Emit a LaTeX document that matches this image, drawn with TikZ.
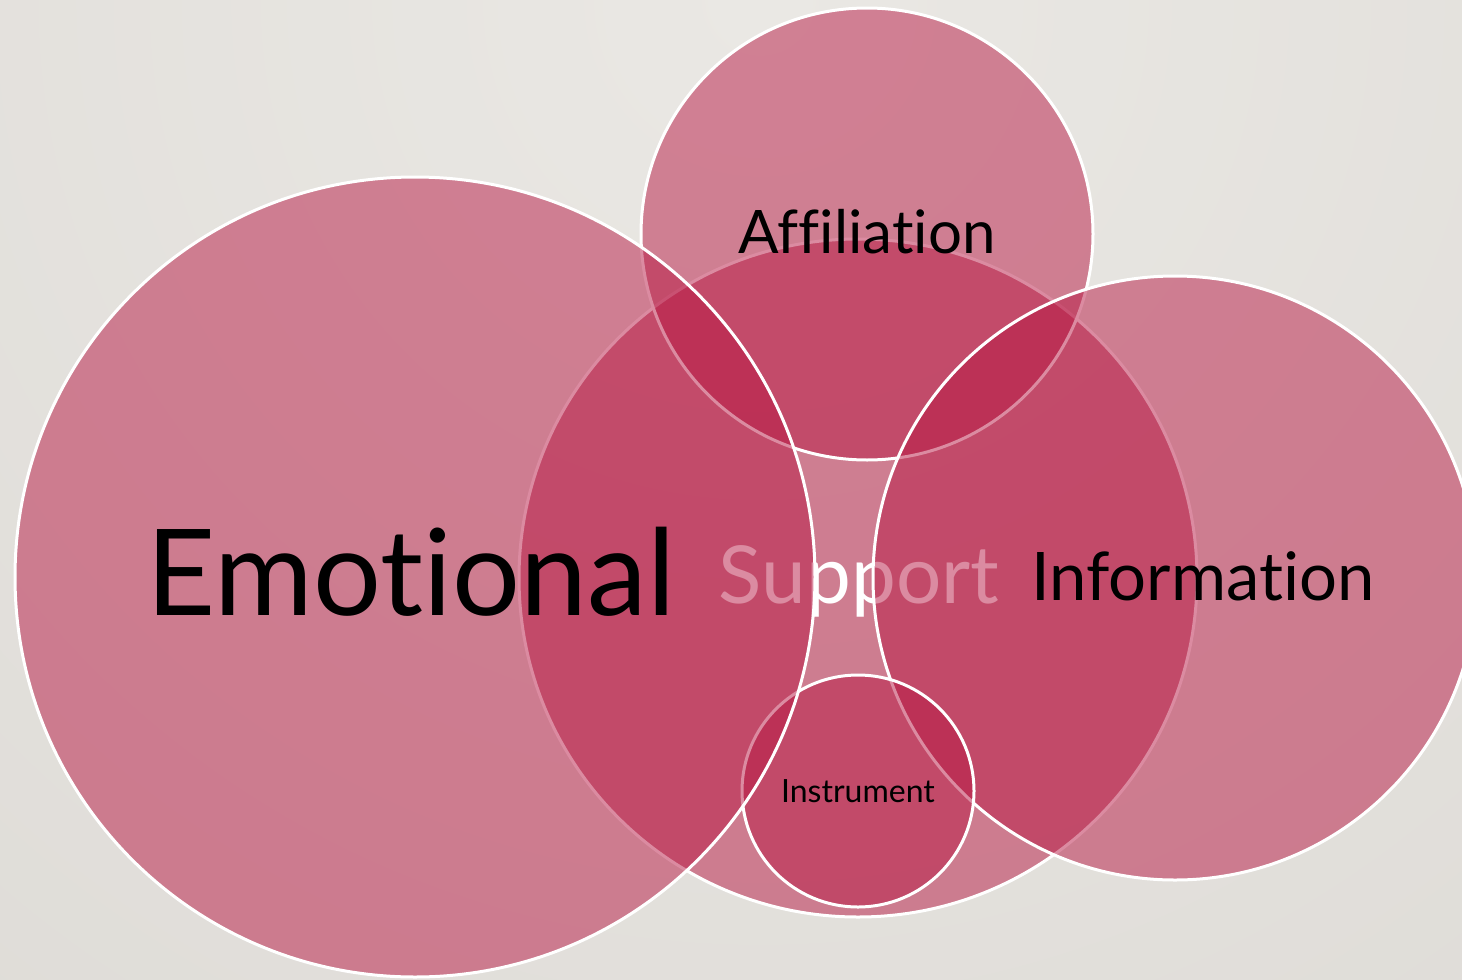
\documentclass[tikz,border=0pt]{standalone}
\usepackage{fontspec}
\setmainfont{Lato}[Ligatures=NoCommon]

\begin{document}
\begin{tikzpicture}[x=1pt,y=-1pt]
       \definecolor{bubblered}{HTML}{B81944}
       \definecolor{bglight}{HTML}{EAE8E4}
       \definecolor{bgdark}{HTML}{D9D6D1}

       \newcommand{\labelsize}[1]{\fontsize{#1}{#1}\selectfont}

       \tikzstyle{bubble} = [circle, inner sep=0pt, fill=bubblered, fill opacity=0.5, draw=white, line width=3pt]
       \tikzstyle{word}   = [anchor=base, inner sep=0pt, text=black]

       % page and backdrop
       \useasboundingbox (0,0) rectangle (1462,980);
       \begin{scope}
         \clip (0,0) rectangle (1462,980);
         \shade [inner color=bglight, outer color=bgdark] (760,0) circle (2000pt);
       \end{scope}

       % the middle circle and its word sit under the others
       \node [bubble, minimum size=678pt] (support) at (858,578) {};
       \node [word, text=white, font=\labelsize{80}] (supporttext) at (859,603) {Support};

       \node [bubble, minimum size=452pt] (affiliation) at (867,234) {};
       \node [bubble, minimum size=604pt] (information) at (1175,578) {};
       \node [bubble, minimum size=232pt] (instrument)  at (858,791) {};
       \node [bubble, minimum size=800pt] (emotional)   at (415,577) {};

       % labels
       \node [word, font=\labelsize{120}] (emotionaltext)   at (411,615)  {Emotional};
       \node [word, font=\labelsize{67}]  (informationtext) at (1203,600) {Information};
       \node [word, font=\labelsize{60}]  (affiliationtext) at (867,253)  {Affiliation};
       \node [word, font=\labelsize{32}]  (instrumenttext)  at (858,802)  {Instrument};
     \end{tikzpicture}
\end{document}
